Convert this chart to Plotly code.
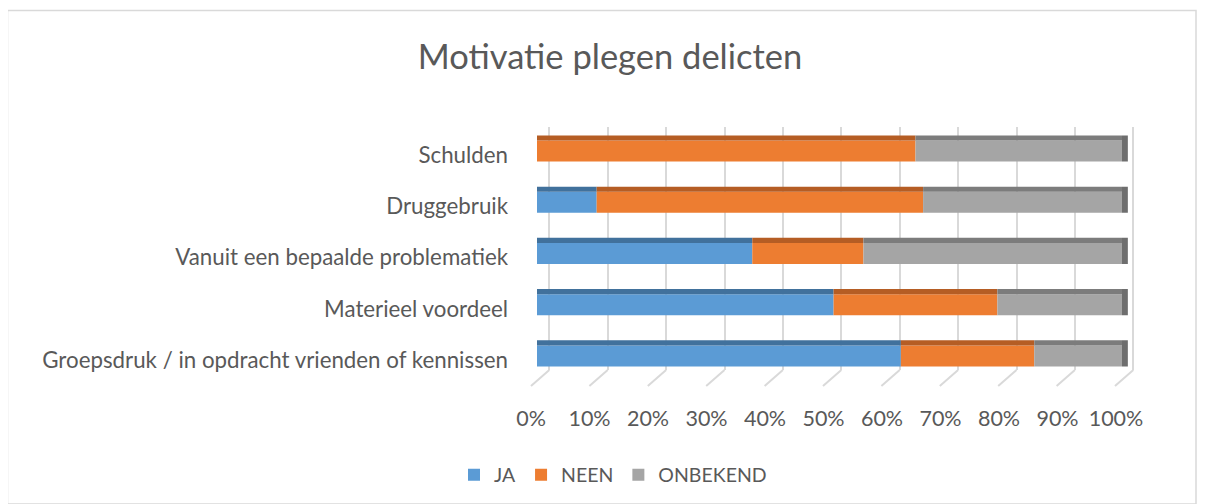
import plotly.graph_objects as go

# ---- data (percent) ----
categories = ["Groepsdruk / in opdracht vrienden of kennissen",
              "Materieel voordeel",
              "Vanuit een bepaalde problematiek",
              "Druggebruik",
              "Schulden"]
ja = [62.2, 50.7, 36.8, 10.2, 0.0]
neen = [22.8, 28.0, 19.0, 55.8, 64.7]
onbekend = [15.0, 21.3, 44.2, 34.0, 35.3]
series_names = ["JA", "NEEN", "ONBEKEND"]
tick_values = [0, 10, 20, 30, 40, 50, 60, 70, 80, 90, 100]
tick_labels = ["0%", "10%", "20%", "30%", "40%", "50%", "60%", "70%", "80%", "90%", "100%"]

front_colors = ["#5B9BD5", "#ED7D31", "#A5A5A5"]
top_colors = ["#41719C", "#B55D24", "#7C7C7C"]
side_color = "#6E6E6E"
text_color = "#595959"
grid_color = "#D9D9D9"
FONT = "Lato"

# the page has an 8px body margin; positions below are in window pixels
OFF = 8
FW, FH = 1206, 504


def X(px):
    return (px - OFF) / FW


def Y(py):
    return (FH - (py - OFF)) / FH


series = [ja, neen, onbekend]
bases = [[0.0] * len(categories),
         list(ja),
         [a + b for a, b in zip(ja, neen)]]
totals = [a + b + c for a, b, c in zip(ja, neen, onbekend)]

# pixel geometry (window coordinates)
x0_front, px_per = 537.0, 5.85       # front face of the bars
x0_back, px_back = 549.3, 5.84       # back wall gridlines
x0_floor = 531.0                     # front edge of the floor (tick labels)
grid_dom = (528.0, 1142.0)
grid_range = [(grid_dom[0] - x0_back) / px_back, (grid_dom[1] - x0_back) / px_back]
floor_shift = (x0_floor - x0_back) / px_back

fig = go.Figure()

# invisible anchors so the gridline and tick-label axes get drawn
fig.add_trace(go.Scatter(x=tick_values, y=[0] * len(tick_values), mode="markers",
                         marker=dict(opacity=0), showlegend=False, hoverinfo="skip",
                         xaxis="x", yaxis="y"))
fig.add_trace(go.Scatter(x=tick_values, y=[0] * len(tick_values), mode="markers",
                         marker=dict(opacity=0), showlegend=False, hoverinfo="skip",
                         xaxis="x3", yaxis="y"))

BW = 0.41
# front faces
for name, vals, base, col in zip(series_names, series, bases, front_colors):
    fig.add_trace(go.Bar(y=categories, x=vals, base=base, orientation="h",
                         name=name, marker=dict(color=col, line=dict(width=0)),
                         width=BW, offset=-BW / 2, xaxis="x2", yaxis="y2"))
# top faces (3D look)
for name, vals, base, col in zip(series_names, series, bases, top_colors):
    fig.add_trace(go.Bar(y=categories, x=vals, base=base, orientation="h",
                         showlegend=False, hoverinfo="skip",
                         marker=dict(color=col, line=dict(width=0)),
                         width=0.1, offset=BW / 2, xaxis="x2", yaxis="y2"))
# right side face of the stack
fig.add_trace(go.Bar(y=categories, x=[1.0] * len(categories), base=totals, orientation="h",
                     showlegend=False, hoverinfo="skip",
                     marker=dict(color=side_color, line=dict(width=0)),
                     width=BW + 0.1, offset=-BW / 2, xaxis="x2", yaxis="y2"))

# floor diagonals (from back wall gridlines to floor front edge)
floor_lines = [dict(type="line", xref="x", yref="paper",
                    x0=v, y0=Y(370), x1=v + floor_shift, y1=Y(386),
                    line=dict(color=grid_color, width=2), layer="below")
               for v in tick_values]

fig.update_layout(
    width=FW, height=FH,
    margin=dict(l=0, r=0, t=0, b=0, pad=0, autoexpand=False),
    paper_bgcolor="white", plot_bgcolor="rgba(0,0,0,0)",
    barmode="overlay",
    font=dict(family=FONT, color=text_color, size=21),
    title=dict(text="Motivatie plegen delicten", x=X(610), xanchor="center",
               y=Y(57), yanchor="middle", automargin=False,
               font=dict(family=FONT, size=34.5, color=text_color)),
    showlegend=True,
    legend=dict(orientation="h", x=X(613), xanchor="center", y=Y(475), yanchor="middle",
                font=dict(family=FONT, size=19.5, color=text_color),
                traceorder="normal"),
    # gridline axis (back wall)
    xaxis=dict(domain=[X(grid_dom[0]), X(grid_dom[1])], range=grid_range, anchor="y",
               showgrid=True, gridcolor=grid_color, gridwidth=2, automargin=False,
               tickvals=tick_values, showticklabels=False, zeroline=False,
               showline=False, ticks=""),
    yaxis=dict(domain=[Y(370), Y(127)], range=[0, 1], visible=False, showgrid=False,
               zeroline=False, automargin=False),
    # bar axis (front faces)
    xaxis2=dict(domain=[X(x0_front), X(x0_front + px_per * 102)], range=[0, 102], anchor="y2",
                showgrid=False, showticklabels=False, zeroline=False, showline=False, ticks="",
                automargin=False),
    yaxis2=dict(domain=[Y(381.6), Y(125.4)], range=[-0.5, 4.5],
                anchor="x2", type="category", categoryorder="array", categoryarray=categories,
                showgrid=False, zeroline=False, showline=False, ticks="",
                ticklabelstandoff=28, ticklabelshift=4, automargin=False,
                tickfont=dict(family=FONT, size=22.3, color=text_color)),
    # tick label axis (floor front edge)
    xaxis3=dict(domain=[X(x0_floor), X(x0_floor + px_per * 100)], range=[0, 100], anchor="y",
                showgrid=False, zeroline=False, showline=False, ticks="", automargin=False,
                tickvals=tick_values, ticktext=tick_labels, ticklabelstandoff=33,
                tickfont=dict(family=FONT, size=21.5, color=text_color)),
    shapes=floor_lines + [dict(type="rect", xref="paper", yref="paper",
                               x0=X(7.5), x1=X(1196), y0=Y(504), y1=Y(10.5),
                               line=dict(color=grid_color, width=1.5),
                               fillcolor="rgba(0,0,0,0)", layer="below")],
)

fig.write_html("out.html")
